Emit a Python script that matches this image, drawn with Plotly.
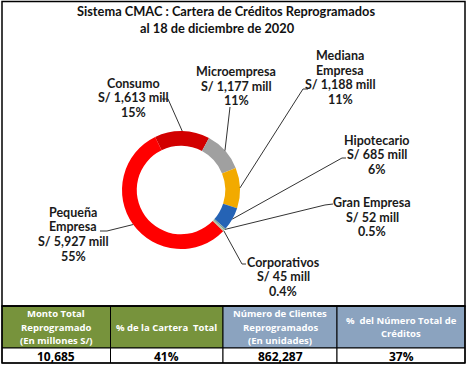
import math
import plotly.graph_objects as go

# ---------------- data ----------------
categories = ["Consumo", "Microempresa", "Mediana Empresa", "Hipotecario",
              "Gran Empresa", "Corporativos", "Pequeña Empresa"]
name_lines = [["Consumo"], ["Microempresa"], ["Mediana", "Empresa"], ["Hipotecario"],
              ["Gran Empresa"], ["Corporativos"], ["Pequeña", "Empresa"]]
amounts = [1613, 1177, 1188, 685, 52, 45, 5927]          # millones S/
amount_text = ["S/ 1,613 mill", "S/ 1,177 mill", "S/ 1,188 mill", "S/ 685 mill",
               "S/ 52 mill", "S/ 45 mill", "S/ 5,927 mill"]
pct_text = ["15%", "11%", "11%", "6%", "0.5%", "0.4%", "55%"]

table_headers = [["Monto Total", "Reprogramado", "(En millones S/)"],
                 ["% de la Cartera  Total"],
                 ["Número de Clientes", "Reprogramados", "(En unidades)"],
                 ["%  del Número Total de", "Créditos"]]
table_values = ["10,685", "41%", "862,287", "37%"]

title_lines = ["Sistema CMAC : Cartera de Créditos Reprogramados",
               "al 18 de diciembre de 2020"]

# ---------------- style / layout ----------------
W, H = 467, 367
colors = ["#D20000", "#A0A0A0", "#F2AA00", "#2563B5", "#7FA39A", "#B3C9A6", "#FF0000"]
CX, CY, R = 181, 190, 59          # pie centre / radius in pixels
ROTATION = -26
FONT = "Lato"
LABEL_SIZE = 12.5
LINE_GAP = 14.6

def px(x):
    return x / W

def py(y):
    return 1 - y / H

fig = go.Figure()

fig.add_trace(go.Pie(
    labels=categories, values=amounts, sort=False, direction="clockwise",
    rotation=ROTATION, hole=0.75, textinfo="none", hoverinfo="label+value+percent",
    marker=dict(colors=colors, line=dict(width=0)),
    domain=dict(x=[px(CX - R), px(CX + R)], y=[py(CY + R), py(CY - R)]),
    showlegend=False,
))

# label placement: centre x and y of the first text line (px)
label_x = [133, 236, 340, 377, 372, 283, 73]
label_y0 = [83.3, 71.5, 55.5, 140, 202.5, 262.3, 212.3]
leader_pts = [
    [(162, 99), (168, 99)],
    [(230, 107)],
    [(308, 89), (303, 89)],
    [(346, 158), (342, 158)],
    [(333, 204), (325, 205)],
    [(246, 264), (242, 264)],
    [(100, 231), (107, 231)],
]

total = sum(amounts)
cum = 0
for i, v in enumerate(amounts):
    mid = ROTATION + 360 * (cum + v / 2) / total
    cum += v
    a = math.radians(mid)
    rx, ry = CX + R * math.sin(a), CY - R * math.cos(a)
    pts = leader_pts[i] + [(rx, ry)]
    path = "M " + " L ".join(f"{px(x):.5f},{py(y):.5f}" for x, y in pts)
    fig.add_shape(type="path", path=path, xref="paper", yref="paper",
                  line=dict(color="#333333", width=1))
    lines = name_lines[i] + [amount_text[i], pct_text[i]]
    for k, txt in enumerate(lines):
        fig.add_annotation(
            x=px(label_x[i]), y=py(label_y0[i] + k * LINE_GAP), xref="paper", yref="paper",
            xanchor="center", yanchor="middle", text=f"<b>{txt}</b>",
            showarrow=False, font=dict(family=FONT, size=LABEL_SIZE, color="#1a1a1a"),
        )

# title
for txt, tx, ty in zip(title_lines, [225.5, 217], [11, 28.3]):
    fig.add_annotation(x=px(tx), y=py(ty), xref="paper", yref="paper", showarrow=False,
                       xanchor="center", yanchor="middle",
                       text=f"<b>{txt}</b>", font=dict(family=FONT, size=12.8, color="#111"))

# chart border
fig.add_shape(type="rect", xref="paper", yref="paper", x0=px(2), x1=px(465), y0=py(306), y1=py(1.5),
              line=dict(color="black", width=1.5))

# summary table (cells as shapes, text as annotations)
col_edges = [2, 110.5, 223, 337, 465]
row_edges = [306, 348, 363]
header_fill = ["#77933C", "#77933C", "#8BA3BF", "#8BA3BF"]
for c in range(4):
    x0, x1 = col_edges[c], col_edges[c + 1]
    xc = (x0 + x1) / 2
    fig.add_shape(type="rect", xref="paper", yref="paper", x0=px(x0), x1=px(x1),
                  y0=py(row_edges[1]), y1=py(row_edges[0]),
                  fillcolor=header_fill[c], line=dict(color="black", width=1), layer="below")
    fig.add_shape(type="rect", xref="paper", yref="paper", x0=px(x0), x1=px(x1),
                  y0=py(row_edges[2]), y1=py(row_edges[1]),
                  fillcolor="white", line=dict(color="black", width=1), layer="below")
    hl = table_headers[c]
    yc = (row_edges[0] + row_edges[1]) / 2
    for k, t in enumerate(hl):
        yy = yc + (k - (len(hl) - 1) / 2) * 13.7
        fig.add_annotation(x=px(xc), y=py(yy), xref="paper", yref="paper", showarrow=False,
                           xanchor="center", yanchor="middle", text=f"<b>{t}</b>",
                           font=dict(family="Open Sans", size=9.5, color="white"))
    fig.add_annotation(x=px(xc), y=py((row_edges[1] + row_edges[2]) / 2 + 0.5), xref="paper",
                       yref="paper", showarrow=False, xanchor="center", yanchor="middle",
                       text=f"<b>{table_values[c]}</b>",
                       font=dict(family="Open Sans", size=12, color="black"))
# outer table border
fig.add_shape(type="rect", xref="paper", yref="paper", x0=px(col_edges[0]), x1=px(col_edges[-1]),
              y0=py(row_edges[2]), y1=py(row_edges[0]), line=dict(color="black", width=1.5))

fig.update_layout(width=W, height=H, margin=dict(l=0, r=0, t=0, b=0),
                  paper_bgcolor="white", plot_bgcolor="white", showlegend=False)

fig.write_html("out.html", config={"displayModeBar": False},
               post_script="document.body.style.margin='0';document.body.style.overflow='hidden';")
